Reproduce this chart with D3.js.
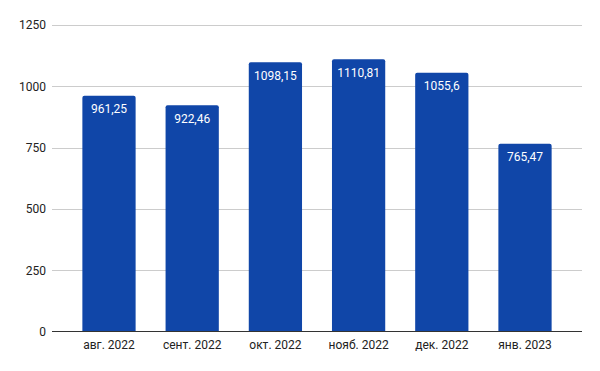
<!DOCTYPE html>
<html><head><meta charset="utf-8">
<script src="https://cdn.jsdelivr.net/npm/d3@7"></script>
<style>body{margin:0;background:#fff}svg{display:block}text{font-family:Roboto,Arial,sans-serif}</style>
</head><body>
<svg id="c" width="600" height="371"></svg>
<script>
const categories = ["авг. 2022","сент. 2022","окт. 2022","нояб. 2022","дек. 2022","янв. 2023"];
const values = [961.25, 922.46, 1098.15, 1110.81, 1055.6, 765.47];
const labels = ["961,25","922,46","1098,15","1110,81","1055,6","765,47"];
const yTicks = [0, 250, 500, 750, 1000, 1250];

const svg = d3.select("#c");
const mLeft = 52, mRight = 582, mTop = 25, mBottom = 331.5;
const x = d3.scaleBand().domain(categories).range([mLeft, mRight]).paddingInner(0.36).paddingOuter(0.365);
const y = d3.scaleLinear().domain([0, 1250]).range([mBottom, mTop]);

const grid = svg.append("g");
yTicks.forEach(t => {
  if (t === 0) return;
  grid.append("line").attr("x1", mLeft).attr("x2", mRight)
    .attr("y1", Math.round(y(t)) + 0.5).attr("y2", Math.round(y(t)) + 0.5)
    .attr("stroke", "#cccccc").attr("stroke-width", 1);
});

const yAxis = svg.append("g").attr("transform", `translate(${mLeft},0)`)
  .call(d3.axisLeft(y).tickValues(yTicks).tickSize(0).tickPadding(6).tickFormat(d3.format("d")));
yAxis.select(".domain").remove();
yAxis.selectAll("text").attr("font-size", 12).attr("fill", "#222").attr("font-family", "Roboto, Arial, sans-serif");

const r = 2;
svg.append("g").selectAll("path").data(values).join("path")
  .attr("fill", "#1046a8")
  .attr("d", (d, i) => {
    const x0 = x(categories[i]), w = x.bandwidth(), y0 = y(d), y1 = y(0);
    return `M${x0},${y1}V${y0 + r}Q${x0},${y0} ${x0 + r},${y0}H${x0 + w - r}Q${x0 + w},${y0} ${x0 + w},${y0 + r}V${y1}Z`;
  });

svg.append("g").selectAll("text").data(values).join("text")
  .attr("x", (d, i) => x(categories[i]) + x.bandwidth() / 2)
  .attr("y", d => y(d) + 17.5)
  .attr("text-anchor", "middle").attr("font-size", 12).attr("fill", "#fff")
  .text((d, i) => labels[i]);

const xAxis = svg.append("g").attr("transform", `translate(0,${mBottom})`)
  .call(d3.axisBottom(x).tickSize(0).tickPadding(9));
xAxis.select(".domain").remove();
xAxis.selectAll("text").attr("font-size", 12).attr("fill", "#222").attr("font-family", "Roboto, Arial, sans-serif");
svg.append("line").attr("x1", mLeft).attr("x2", mRight).attr("y1", 331.5).attr("y2", 331.5)
  .attr("stroke", "#333").attr("stroke-width", 1);
</script>
</body></html>
